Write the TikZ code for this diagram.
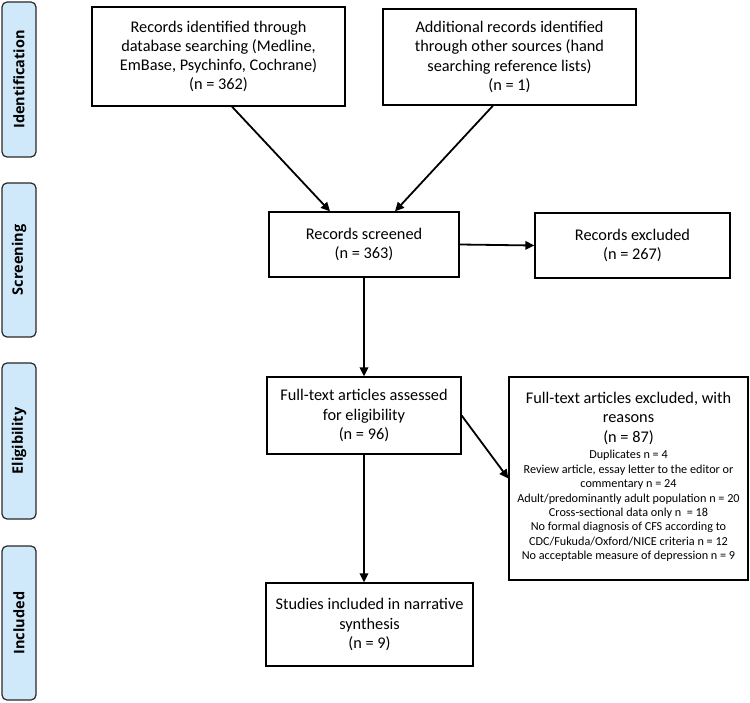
\documentclass[tikz,border=0pt]{standalone}
\usepackage{fontspec}
\setmainfont{Carlito}
\newfontfamily\labfont{Open Sans}
\usetikzlibrary{arrows.meta}
\definecolor{barfill}{RGB}{207,232,250}
\definecolor{bardraw}{RGB}{40,40,40}
\tikzset{
  box/.style={draw=black, line width=1.3pt, fill=white, align=center, inner sep=2pt,
    font=\fontsize{16.3}{19.2}\selectfont},
  txt/.style={align=center, inner sep=0pt, font=\fontsize{16.3}{19.5}\selectfont},
  smalltxt/.style={align=center, inner sep=0pt, font=\fontsize{12.2}{14.45}\selectfont},
  bar/.style={draw=bardraw, line width=1.2pt, fill=barfill, rounded corners=5pt,
    rotate=90, minimum height=34pt, inner sep=0pt,
    font=\labfont\bfseries\fontsize{14.5}{16}\selectfont},
  arr/.style={draw=black, line width=1.8pt, -{Triangle[length=9pt,width=8.5pt]}}
}
\begin{document}
\begin{tikzpicture}[x=1pt,y=-1pt]
\useasboundingbox (0,0) rectangle (750,703);
% phase bars
\node[bar, minimum width=155pt] (idf) at (19,79.5) {Identification};
\node[bar, minimum width=154pt] (scr) at (19,260) {Screening};
\node[bar, minimum width=156pt] (elg) at (19,441) {Eligibility};
\node[bar, minimum width=154pt] (inc) at (19,623) {Included};
% boxes
\node[box, minimum width=253pt, minimum height=99pt] (b1) at (218.5,56.5)
  {Records identified through\\database searching (Medline,\\EmBase, Psychinfo, Cochrane)\\(n = 362)};
\node[box, minimum width=253pt, minimum height=96pt] (b2) at (509.5,57)
  {Additional records identified\\through other sources (hand\\searching reference lists)\\(n = 1)};
\node[box, minimum width=190pt, minimum height=65pt] (b3) at (364,244.5)
  {Records screened\\(n = 363)};
\node[box, minimum width=195pt, minimum height=65pt] (b4) at (632.5,245.5)
  {Records excluded\\(n = 267)};
\node[box, minimum width=194pt, minimum height=77pt] (b5) at (364,415.5)
  {Full-text articles assessed\\for eligibility\\(n = 96)};
\node[box, minimum width=239pt, minimum height=203pt] (b6) at (628.5,478.5) {};
\node[txt] (b6h) at (628.5,418) {Full-text articles excluded, with\\reasons\\(n = 87)};
\node[smalltxt] (b6r) at (628.5,506) {Duplicates n = 4\\
   Review article, essay letter to the editor or\\
   commentary n = 24\\
   Adult/predominantly adult population n = 20\\
   Cross-sectional data only n\ \ = 18\\
   No formal diagnosis of CFS according to\\
   CDC/Fukuda/Oxford/NICE criteria n = 12\\
   No acceptable measure of depression n = 9};
\node[box, minimum width=207pt, minimum height=83pt] (b7) at (369.5,624.5)
  {Studies included in narrative\\synthesis\\(n = 9)};
% connectors
\draw[arr] ([xshift=13.5pt]b1.south) -- ([xshift=-34pt]b3.north);
\draw[arr] ([xshift=-16.5pt]b2.south) -- ([xshift=31pt]b3.north);
\draw[arr] (b3.east) -- (b4.west);
\draw[arr] (b3.south) -- (b5.north);
\draw[arr] (b5.east) -- (b6.west);
\draw[arr] (b5.south) -- (b5.south |- b7.north);
\end{tikzpicture}
\end{document}
